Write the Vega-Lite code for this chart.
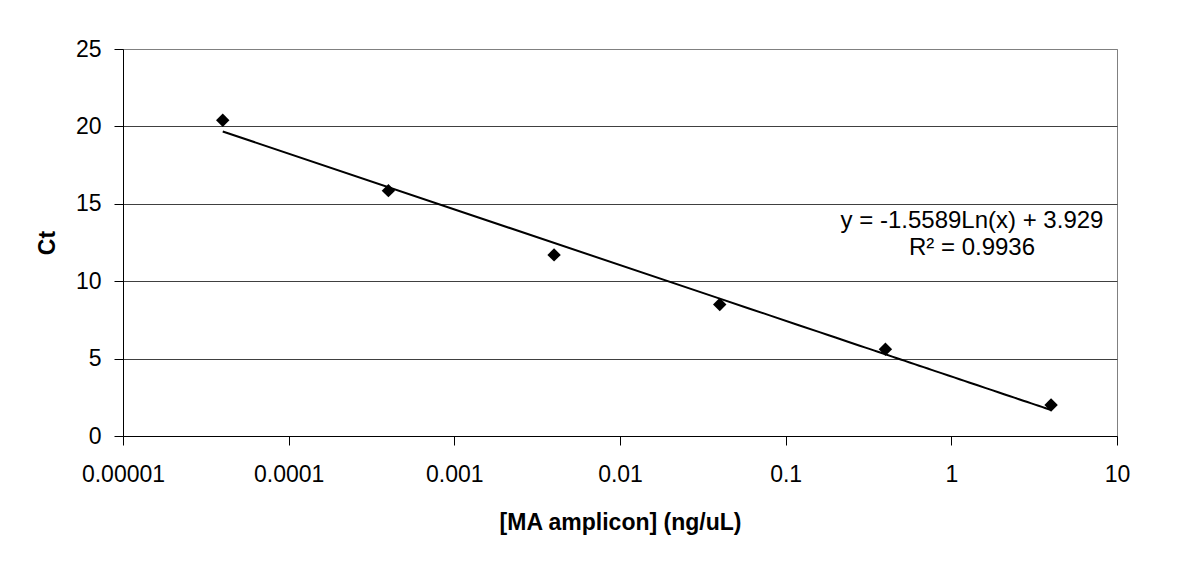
{
  "$schema": "https://vega.github.io/schema/vega-lite/v6.json",
  "width": 994,
  "height": 387,
  "autosize": {"type": "none"},
  "padding": {"left": 123, "top": 49, "right": 67, "bottom": 125},
  "background": "white",
  "config": {
    "font": "Liberation Sans",
    "view": {"stroke": "#808080", "strokeWidth": 1}
  },
  "datasets": {
    "points": [
      {"conc": 0.00004, "Ct": 20.4},
      {"conc": 0.0004, "Ct": 15.85},
      {"conc": 0.004, "Ct": 11.7},
      {"conc": 0.04, "Ct": 8.5},
      {"conc": 0.4, "Ct": 5.6},
      {"conc": 4, "Ct": 2.0}
    ],
    "annotation": [
      {"conc": 1.333, "Ct": 13.9, "label": "fit"}
    ]
  },
  "layer": [
    {
      "data": {"name": "points"},
      "transform": [{"regression": "Ct", "on": "conc", "method": "log"}],
      "mark": {"type": "line", "color": "black", "strokeWidth": 2},
      "encoding": {
        "x": {
          "field": "conc",
          "type": "quantitative",
          "scale": {"type": "log", "domain": [0.00001, 10], "nice": false},
          "axis": {
            "title": "[MA amplicon] (ng/uL)",
            "titleFontSize": 23,
            "titleFontWeight": "bold",
            "titleColor": "black",
            "titlePadding": 25,
            "labelFontSize": 23,
            "labelColor": "black",
            "labelPadding": 18,
            "labelFlush": false,
            "labelOverlap": false,
            "values": [0.00001, 0.0001, 0.001, 0.01, 0.1, 1, 10],
            "labelExpr": "'' + datum.value",
            "grid": false,
            "tickSize": 9,
            "tickColor": "black",
            "domainColor": "black"
          }
        },
        "y": {
          "field": "Ct",
          "type": "quantitative",
          "scale": {"domain": [0, 25], "nice": false},
          "axis": {
            "title": "Ct",
            "titleFontSize": 23,
            "titleFontWeight": "bold",
            "titleColor": "black",
            "titlePadding": 16,
            "labelFontSize": 23,
            "labelColor": "black",
            "labelPadding": 13,
            "values": [0, 5, 10, 15, 20, 25],
            "grid": true,
            "gridColor": {"condition": {"test": "datum.value === 25", "value": "#808080"}, "value": "#404040"},
            "gridOpacity": 1,
            "tickSize": 9,
            "tickColor": "black",
            "domainColor": "black"
          }
        }
      }
    },
    {
      "data": {"name": "points"},
      "mark": {"type": "point", "shape": "diamond", "filled": true, "color": "black", "size": 180, "opacity": 1},
      "encoding": {
        "x": {"field": "conc", "type": "quantitative", "scale": {"type": "log", "domain": [0.00001, 10], "nice": false}},
        "y": {"field": "Ct", "type": "quantitative", "scale": {"domain": [0, 25], "nice": false}}
      }
    },
    {
      "data": {"name": "annotation"},
      "mark": {
        "type": "text",
        "text": ["y = -1.5589Ln(x) + 3.929", "R² = 0.9936"],
        "align": "center",
        "baseline": "middle",
        "fontSize": 24,
        "fontWeight": "normal",
        "lineHeight": 27,
        "color": "black"
      },
      "encoding": {
        "x": {"field": "conc", "type": "quantitative", "scale": {"type": "log", "domain": [0.00001, 10], "nice": false}},
        "y": {"field": "Ct", "type": "quantitative", "scale": {"domain": [0, 25], "nice": false}}
      }
    }
  ]
}
